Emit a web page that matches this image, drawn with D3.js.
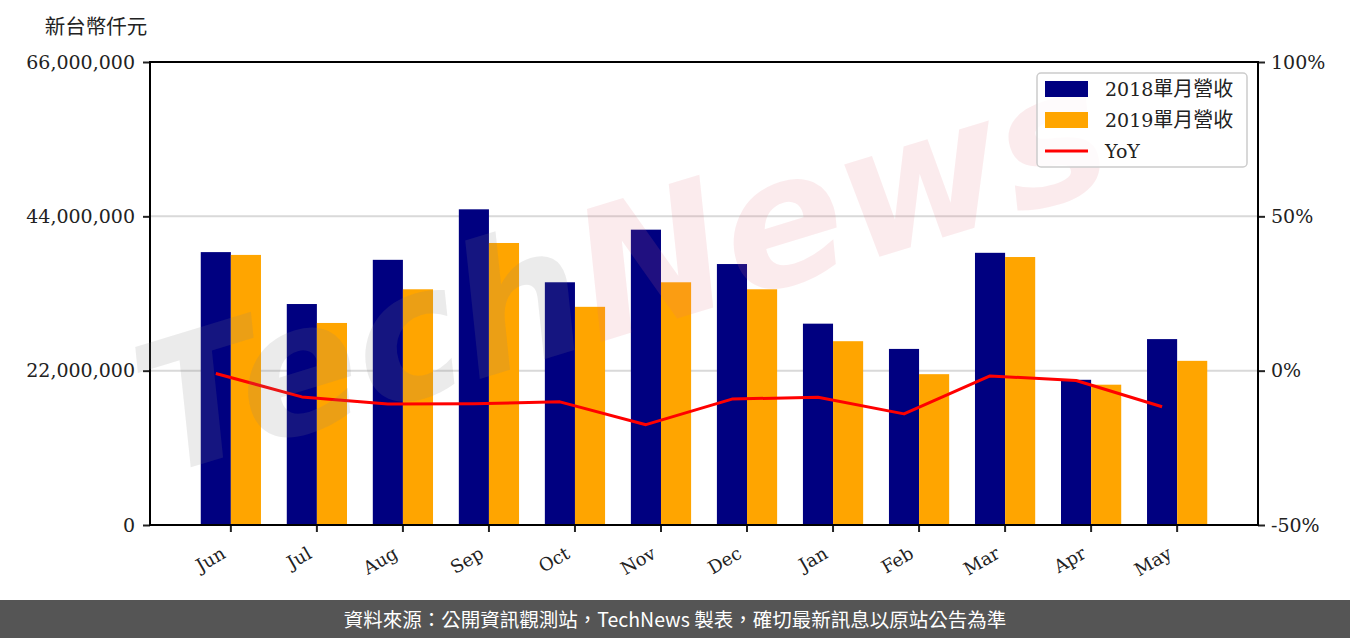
<!DOCTYPE html>
<html>
<head>
<meta charset="utf-8">
<script src="https://cdn.jsdelivr.net/npm/d3@7"></script>
<style>
  body { margin: 0; background: #fff; }
  svg { display: block; }
</style>
</head>
<body>
<svg width="1350" height="638"></svg>
<script>
const months = ["Jun", "Jul", "Aug", "Sep", "Oct", "Nov", "Dec", "Jan", "Feb", "Mar", "Apr", "May"];
const rev2018 = [38.9, 31.5, 37.8, 45.0, 34.6, 42.1, 37.2, 28.7, 25.1, 38.8, 20.7, 26.5].map(v => v * 1e6);
const rev2019 = [38.5, 28.8, 33.6, 40.2, 31.1, 34.6, 33.6, 26.2, 21.5, 38.2, 20.0, 23.4].map(v => v * 1e6);
const yoy = [-0.9, -8.5, -10.8, -10.7, -10.1, -17.5, -9.2, -8.6, -14.0, -1.7, -3.2, -11.7];
const leftTicks = [0, 22000000, 44000000, 66000000];
const rightTicks = [-50, 0, 50, 100];
const legendLabels = [["2018", "單月營收"], ["2019", "單月營收"], ["YoY", ""]];

const margin = { left: 150, right: 1258, top: 62, bottom: 525 };
const svg = d3.select("svg");

const x = d3.scaleBand().domain(months).range([margin.left, margin.right])
  .paddingInner(0).paddingOuter(0.44);
const barW = x.step() * 0.35;
const cx = d => x(d) + x.bandwidth() / 2;

const y = d3.scaleLinear().domain([0, 66000000]).range([margin.bottom, margin.top]);
const y2 = d3.scaleLinear().domain([-50, 100]).range([margin.bottom, margin.top]);

const serif = "'DejaVu Serif', serif";
const cjk = "'Noto Sans CJK TC', sans-serif";

// grid
svg.append("g").selectAll("line").data(leftTicks.slice(1, 3)).join("line")
  .attr("x1", margin.left).attr("x2", margin.right)
  .attr("y1", d => y(d)).attr("y2", d => y(d))
  .attr("stroke", "#d9d9d9").attr("stroke-width", 2);

// bars
svg.append("g").selectAll("rect").data(months).join("rect")
  .attr("x", d => cx(d) - barW).attr("width", barW)
  .attr("y", (d, i) => y(rev2018[i])).attr("height", (d, i) => y(0) - y(rev2018[i]))
  .attr("fill", "#000080");
svg.append("g").selectAll("rect").data(months).join("rect")
  .attr("x", d => cx(d)).attr("width", barW)
  .attr("y", (d, i) => y(rev2019[i])).attr("height", (d, i) => y(0) - y(rev2019[i]))
  .attr("fill", "#ffa500");

// yoy line
const line = d3.line().x((d, i) => cx(months[i]) - barW / 2).y(d => y2(d));
svg.append("path").datum(yoy).attr("d", line)
  .attr("fill", "none").attr("stroke", "#ff0000").attr("stroke-width", 3)
  .attr("stroke-linejoin", "round");

// axes
const fmt = d3.format(",");
const gl = svg.append("g").attr("transform", `translate(${margin.left},0)`)
  .call(d3.axisLeft(y).tickValues(leftTicks).tickFormat(fmt).tickSize(7).tickPadding(8));
const gr = svg.append("g").attr("transform", `translate(${margin.right},0)`)
  .call(d3.axisRight(y2).tickValues(rightTicks).tickFormat(d => d + "%").tickSize(7).tickPadding(6));
const gb = svg.append("g").attr("transform", `translate(0,${margin.bottom})`)
  .call(d3.axisBottom(x).tickSize(7).tickPadding(6));
for (const g of [gl, gr, gb]) {
  g.select(".domain").remove();
  g.selectAll(".tick line").attr("stroke", "#222").attr("stroke-width", 2);
  g.selectAll("text").attr("font-family", serif).attr("font-size", 19).attr("fill", "#222");
}
gb.selectAll("text").attr("font-size", 18)
  .attr("text-anchor", "end").attr("dy", "0.5em")
  .attr("transform", "translate(-15,13) rotate(-30)");

// frame
svg.append("rect").attr("x", margin.left).attr("y", margin.top)
  .attr("width", margin.right - margin.left).attr("height", margin.bottom - margin.top)
  .attr("fill", "none").attr("stroke", "#000").attr("stroke-width", 2);

// unit label
svg.append("text").attr("x", 96).attr("y", 34).attr("text-anchor", "middle")
  .attr("font-family", cjk).attr("font-size", 20.5).attr("fill", "#222").text("新台幣仟元");

// watermark
const wm = svg.append("text")
  .attr("transform", "translate(640,330) rotate(-17)")
  .attr("text-anchor", "middle")
  .attr("font-family", "'DejaVu Sans', sans-serif").attr("font-style", "italic")
  .attr("font-weight", "bold").attr("font-size", 180);
wm.append("tspan").attr("fill", "#808080").attr("fill-opacity", 0.16).text("Tech");
wm.append("tspan").attr("fill", "#e07080").attr("fill-opacity", 0.14).text("News");

// legend
const lg = svg.append("g").attr("transform", "translate(1037,73)");
lg.append("rect").attr("width", 210).attr("height", 94).attr("rx", 4)
  .attr("fill", "#fff").attr("fill-opacity", 0.8).attr("stroke", "#ccc").attr("stroke-width", 1.5);
const colors = ["#000080", "#ffa500", "#ff0000"];
legendLabels.forEach((lab, i) => {
  const yy = 16 + i * 31;
  if (i < 2) {
    lg.append("rect").attr("x", 8).attr("y", yy - 8).attr("width", 43).attr("height", 16).attr("fill", colors[i]);
  } else {
    lg.append("line").attr("x1", 8).attr("x2", 51).attr("y1", yy).attr("y2", yy)
      .attr("stroke", colors[i]).attr("stroke-width", 3);
  }
  const t = lg.append("text").attr("x", 68).attr("y", yy).attr("dy", "0.35em")
    .attr("font-size", 20).attr("fill", "#222");
  t.append("tspan").attr("font-family", serif).attr("font-size", 19).text(lab[0]);
  if (lab[1]) t.append("tspan").attr("font-family", cjk).text(lab[1]);
});

// footer
svg.append("rect").attr("x", 0).attr("y", 600).attr("width", 1350).attr("height", 38).attr("fill", "#555555");
svg.append("text").attr("x", 675).attr("y", 627).attr("text-anchor", "middle")
  .attr("font-family", cjk).attr("font-size", 19.5).attr("fill", "#fff")
  .text("資料來源：公開資訊觀測站，TechNews 製表，確切最新訊息以原站公告為準");
</script>
</body>
</html>
